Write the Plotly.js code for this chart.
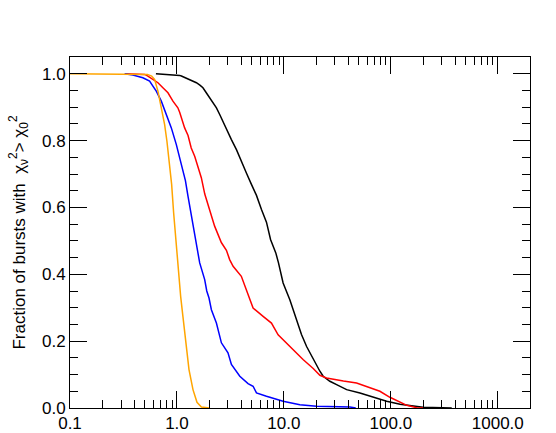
<!DOCTYPE html>
<html>
<head>
<meta charset="utf-8">
<script src="https://cdn.plot.ly/plotly-3.0.1.min.js"></script>
<style>html,body{margin:0;padding:0;background:#fff}#chart{width:556px;height:433px}</style>
</head>
<body>
<div id="chart"></div>
<script>
// Orange curve (smooth reference distribution)
const orangeX = [0.10, 0.45, 0.53, 0.58, 0.618, 0.664, 0.714, 0.767, 0.806, 0.841, 0.873, 0.892, 0.931, 0.987, 1.044, 1.083, 1.137, 1.206, 1.296, 1.412, 1.539, 1.692, 1.884, 2.0];
const orangeY = [1.0, 1.0, 0.998, 0.993, 0.983, 0.948, 0.898, 0.848, 0.798, 0.749, 0.698, 0.669, 0.584, 0.484, 0.384, 0.334, 0.274, 0.195, 0.115, 0.055, 0.017, 0.003, 0.0, 0.0];

// Blue curve
const blueX = [0.324, 0.387, 0.48, 0.555, 0.596, 0.641, 0.714, 0.796, 0.886, 0.987, 1.06, 1.138, 1.20, 1.268, 1.364, 1.465, 1.632, 1.817, 1.90, 1.994, 2.099, 2.338, 2.604, 3.0, 3.23, 3.87, 4.62, 5.15, 5.54, 6.87, 8.83, 9.83, 14.1, 20.2, 41.4, 47.0];
const blueY = [1.0, 0.996, 0.988, 0.978, 0.963, 0.948, 0.918, 0.878, 0.838, 0.788, 0.749, 0.708, 0.68, 0.634, 0.574, 0.514, 0.434, 0.384, 0.35, 0.329, 0.294, 0.254, 0.195, 0.165, 0.130, 0.095, 0.073, 0.065, 0.045, 0.035, 0.025, 0.02, 0.01, 0.005, 0.003, 0.0];

// Red curve
const redX = [0.33, 0.50, 0.535, 0.596, 0.664, 0.739, 0.824, 0.917, 0.987, 1.02, 1.06, 1.10, 1.18, 1.27, 1.36, 1.465, 1.57, 1.69, 1.82, 2.02, 2.25, 2.6, 2.9, 3.11, 3.35, 4.0, 4.47, 4.79, 5.15, 6.39, 7.65, 8.83, 10.2, 12.2, 15.1, 18.8, 21.7, 25.0, 29.0, 36.0, 47.8, 59.3, 79.0, 98.0, 122.0, 141.0, 174.0, 200.0];
const redY = [1.0, 0.998, 0.993, 0.983, 0.973, 0.958, 0.943, 0.918, 0.905, 0.898, 0.885, 0.868, 0.838, 0.815, 0.778, 0.753, 0.719, 0.689, 0.64, 0.59, 0.544, 0.495, 0.472, 0.444, 0.424, 0.394, 0.354, 0.324, 0.299, 0.274, 0.254, 0.219, 0.199, 0.175, 0.145, 0.118, 0.098, 0.09, 0.086, 0.081, 0.075, 0.065, 0.05, 0.032, 0.018, 0.008, 0.001, 0.0];

// Black curve
const blackX = [0.636, 0.854, 1.06, 1.10, 1.315, 1.52, 1.65, 1.75, 1.88, 2.02, 2.17, 2.34, 2.51, 2.9, 3.23, 3.6, 4.0, 4.47, 4.97, 5.54, 6.17, 6.87, 7.5, 8.4, 8.9, 9.83, 11.36, 12.2, 13.1, 14.6, 16.3, 17.5, 18.8, 20.2, 21.7, 23.3, 25.1, 26.9, 31.1, 33.4, 38.6, 51.4, 68.4, 91.3, 122.0, 162.0, 200.0, 371.0];
const blackY = [1.0, 0.998, 0.995, 0.993, 0.983, 0.973, 0.965, 0.958, 0.943, 0.928, 0.913, 0.898, 0.878, 0.833, 0.803, 0.773, 0.736, 0.702, 0.669, 0.636, 0.594, 0.556, 0.504, 0.464, 0.434, 0.374, 0.324, 0.294, 0.264, 0.22, 0.184, 0.165, 0.145, 0.125, 0.110, 0.095, 0.088, 0.080, 0.070, 0.065, 0.055, 0.045, 0.032, 0.02, 0.011, 0.005, 0.002, 0.0];

// Tick labels
const xTickVals = [0.1, 1, 10, 100, 1000];
const xTickText = ['0.1', '1.0', '10.0', '100.0', '1000.0'];
const xMinorVals = [];
[0.1, 1, 10, 100, 1000].forEach(d => { for (let k = 2; k <= 9; k++) { const v = d * k; if (v < 2000) xMinorVals.push(v); } });

const lw = 1.5;
const traces = [
  {x: blackX, y: blackY, mode: 'lines', line: {color: '#000000', width: lw}},
  {x: redX, y: redY, mode: 'lines', line: {color: '#ff0000', width: lw}},
  {x: blueX, y: blueY, mode: 'lines', line: {color: '#0000ff', width: lw}},
  {x: orangeX, y: orangeY, mode: 'lines', line: {color: '#ffa500', width: lw}}
];

const font = {family: 'Liberation Sans, Arial, sans-serif', size: 17, color: '#000'};
const layout = {
  width: 556, height: 433,
  margin: {l: 70, r: 26, t: 57, b: 25, pad: 0},
  showlegend: false,
  paper_bgcolor: '#fff', plot_bgcolor: '#fff',
  font: font,
  xaxis: {
    type: 'log', range: [-1, Math.log10(2000)],
    tickmode: 'array', tickvals: xTickVals, ticktext: xTickText,
    ticks: 'inside', ticklen: 17, tickwidth: 1, tickcolor: '#000',
    showline: true, linecolor: '#000', linewidth: 1, mirror: 'ticks',
    showgrid: false, zeroline: false,
    minor: {tickmode: 'array', tickvals: xMinorVals, ticks: 'inside', ticklen: 8, tickwidth: 1, tickcolor: '#000', showgrid: false},
    tickfont: font
  },
  yaxis: {
    range: [0, 1.05], tickmode: 'linear', tick0: 0, dtick: 0.2, tickformat: '.1f',
    ticks: 'inside', ticklen: 17, tickwidth: 1, tickcolor: '#000',
    showline: true, linecolor: '#000', linewidth: 1, mirror: 'ticks',
    showgrid: false, zeroline: false,
    minor: {dtick: 0.05, ticks: 'inside', ticklen: 8, tickwidth: 1, tickcolor: '#000', showgrid: false},
    tickfont: font,
    title: {text: 'Fraction of bursts with  χ<sub>ν</sub><sup>2</sup>> χ<sub>0</sub><sup>2</sup>', font: font, standoff: 12}
  }
};

Plotly.newPlot('chart', traces, layout, {displayModeBar: false, staticPlot: true});
</script>
</body>
</html>
